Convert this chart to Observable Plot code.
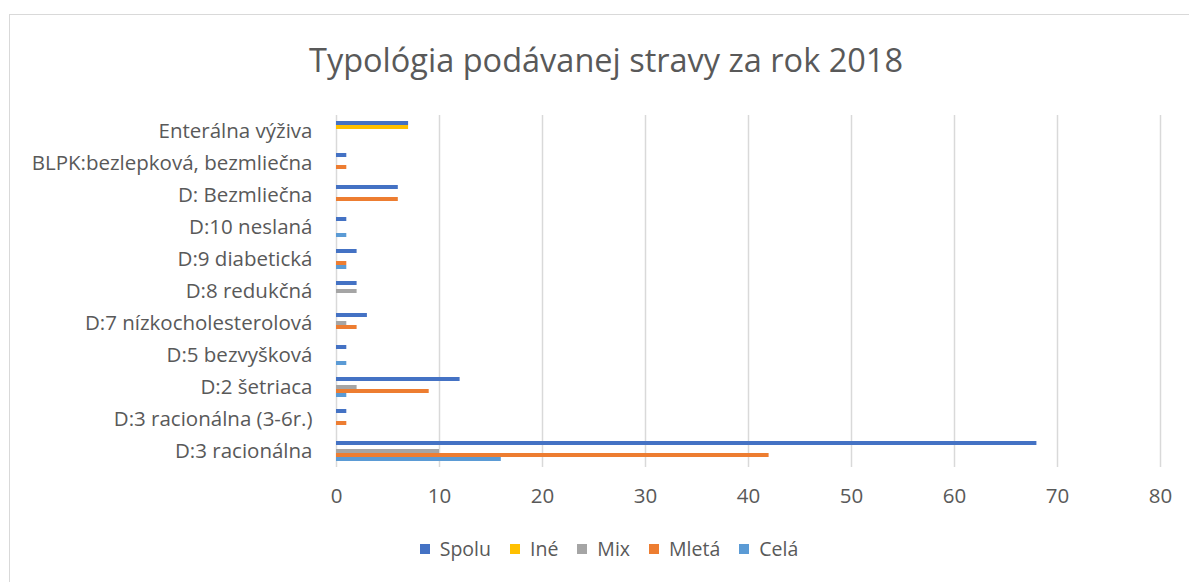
<!DOCTYPE html>
<html>
<head>
<meta charset="utf-8">
<script src="https://cdn.jsdelivr.net/npm/d3@7"></script>
<script src="https://cdn.jsdelivr.net/npm/@observablehq/plot@0.6"></script>
<style>
  html, body { margin: 0; padding: 0; background: #fff; }
  #wrap { position: relative; width: 1189px; height: 582px; overflow: hidden; font-family: "Open Sans", sans-serif; color: #595959; }
  #frame { position: absolute; left: 9px; top: 14px; width: 1300px; height: 700px; border-left: 1.5px solid #d9d9d9; border-top: 1.5px solid #d9d9d9; }
  #title { position: absolute; left: 0; top: 0; width: 1212px; height: 100px; text-align: center; font-size: 32.5px; line-height: 120px; color: #595959; }
  #chart { position: absolute; left: 0; top: 100px; }
  #legend { position: absolute; left: 0; top: 535px; width: 1218px; display: flex; justify-content: center; align-items: center; font-size: 19.5px; color: #595959; }
  .item { display: flex; align-items: center; margin: 0 9.5px; }
  .sw { width: 10px; height: 10px; margin-right: 10px; }
</style>
</head>
<body>
<div id="wrap">
  <div id="frame"></div>
  <div id="title">Typológia podávanej stravy za rok 2018</div>
  <div id="chart"></div>
  <div id="legend"></div>
</div>
<script>
const categories = [
  "Enterálna výživa",
  "BLPK:bezlepková, bezmliečna",
  "D: Bezmliečna",
  "D:10 neslaná",
  "D:9 diabetická",
  "D:8 redukčná",
  "D:7 nízkocholesterolová",
  "D:5 bezvyšková",
  "D:2 šetriaca",
  "D:3 racionálna (3-6r.)",
  "D:3 racionálna"
];
const seriesNames = ["Spolu", "Iné", "Mix", "Mletá", "Celá"];
const seriesColors = ["#4472C4", "#FFC000", "#A5A5A5", "#ED7D31", "#5B9BD5"];
const spolu = [7, 1, 6, 1, 2, 2, 3, 1, 12, 1, 68];
const ine   = [7, 0, 0, 0, 0, 0, 0, 0, 0, 0, 0];
const mix   = [0, 0, 0, 0, 0, 2, 1, 0, 2, 0, 10];
const mleta = [0, 1, 6, 0, 1, 0, 2, 0, 9, 1, 42];
const cela  = [0, 0, 0, 1, 1, 0, 0, 1, 1, 0, 16];
const xTicks = [0, 10, 20, 30, 40, 50, 60, 70, 80];

const seriesValues = [spolu, ine, mix, mleta, cela];
const data = [];
categories.forEach((c, i) => {
  seriesNames.forEach((s, j) => {
    data.push({category: c, series: s, value: seriesValues[j][i]});
  });
});

const chart = Plot.plot({
  width: 1189,
  height: 415,
  marginLeft: 336,
  marginRight: 29,
  marginTop: 13,
  marginBottom: 47,
  style: {fontFamily: "Open Sans, sans-serif", fontSize: "20.5px", color: "#595959", background: "transparent"},
  x: {domain: [0, 80], ticks: xTicks, tickSize: 0, tickPadding: 21, label: null, tickFormat: d => String(d)},
  y: {domain: seriesNames, axis: null, paddingInner: 0, paddingOuter: 0.745},
  fy: {domain: categories, padding: 0, label: null, tickSize: 0, tickPadding: 24, axis: "left"},
  color: {domain: seriesNames, range: seriesColors},
  marks: [
    Plot.ruleX(xTicks, {stroke: "#d9d9d9", strokeWidth: 1.5}),
    Plot.barX(data, {x: "value", y: "series", fy: "category", fill: "series", insetTop: 0, insetBottom: 0})
  ]
});
document.getElementById("chart").appendChild(chart);

const legend = document.getElementById("legend");
seriesNames.forEach((s, j) => {
  const it = document.createElement("div");
  it.className = "item";
  const sw = document.createElement("div");
  sw.className = "sw";
  sw.style.background = seriesColors[j];
  const t = document.createElement("span");
  t.textContent = s;
  it.appendChild(sw);
  it.appendChild(t);
  legend.appendChild(it);
});
</script>
</body>
</html>
